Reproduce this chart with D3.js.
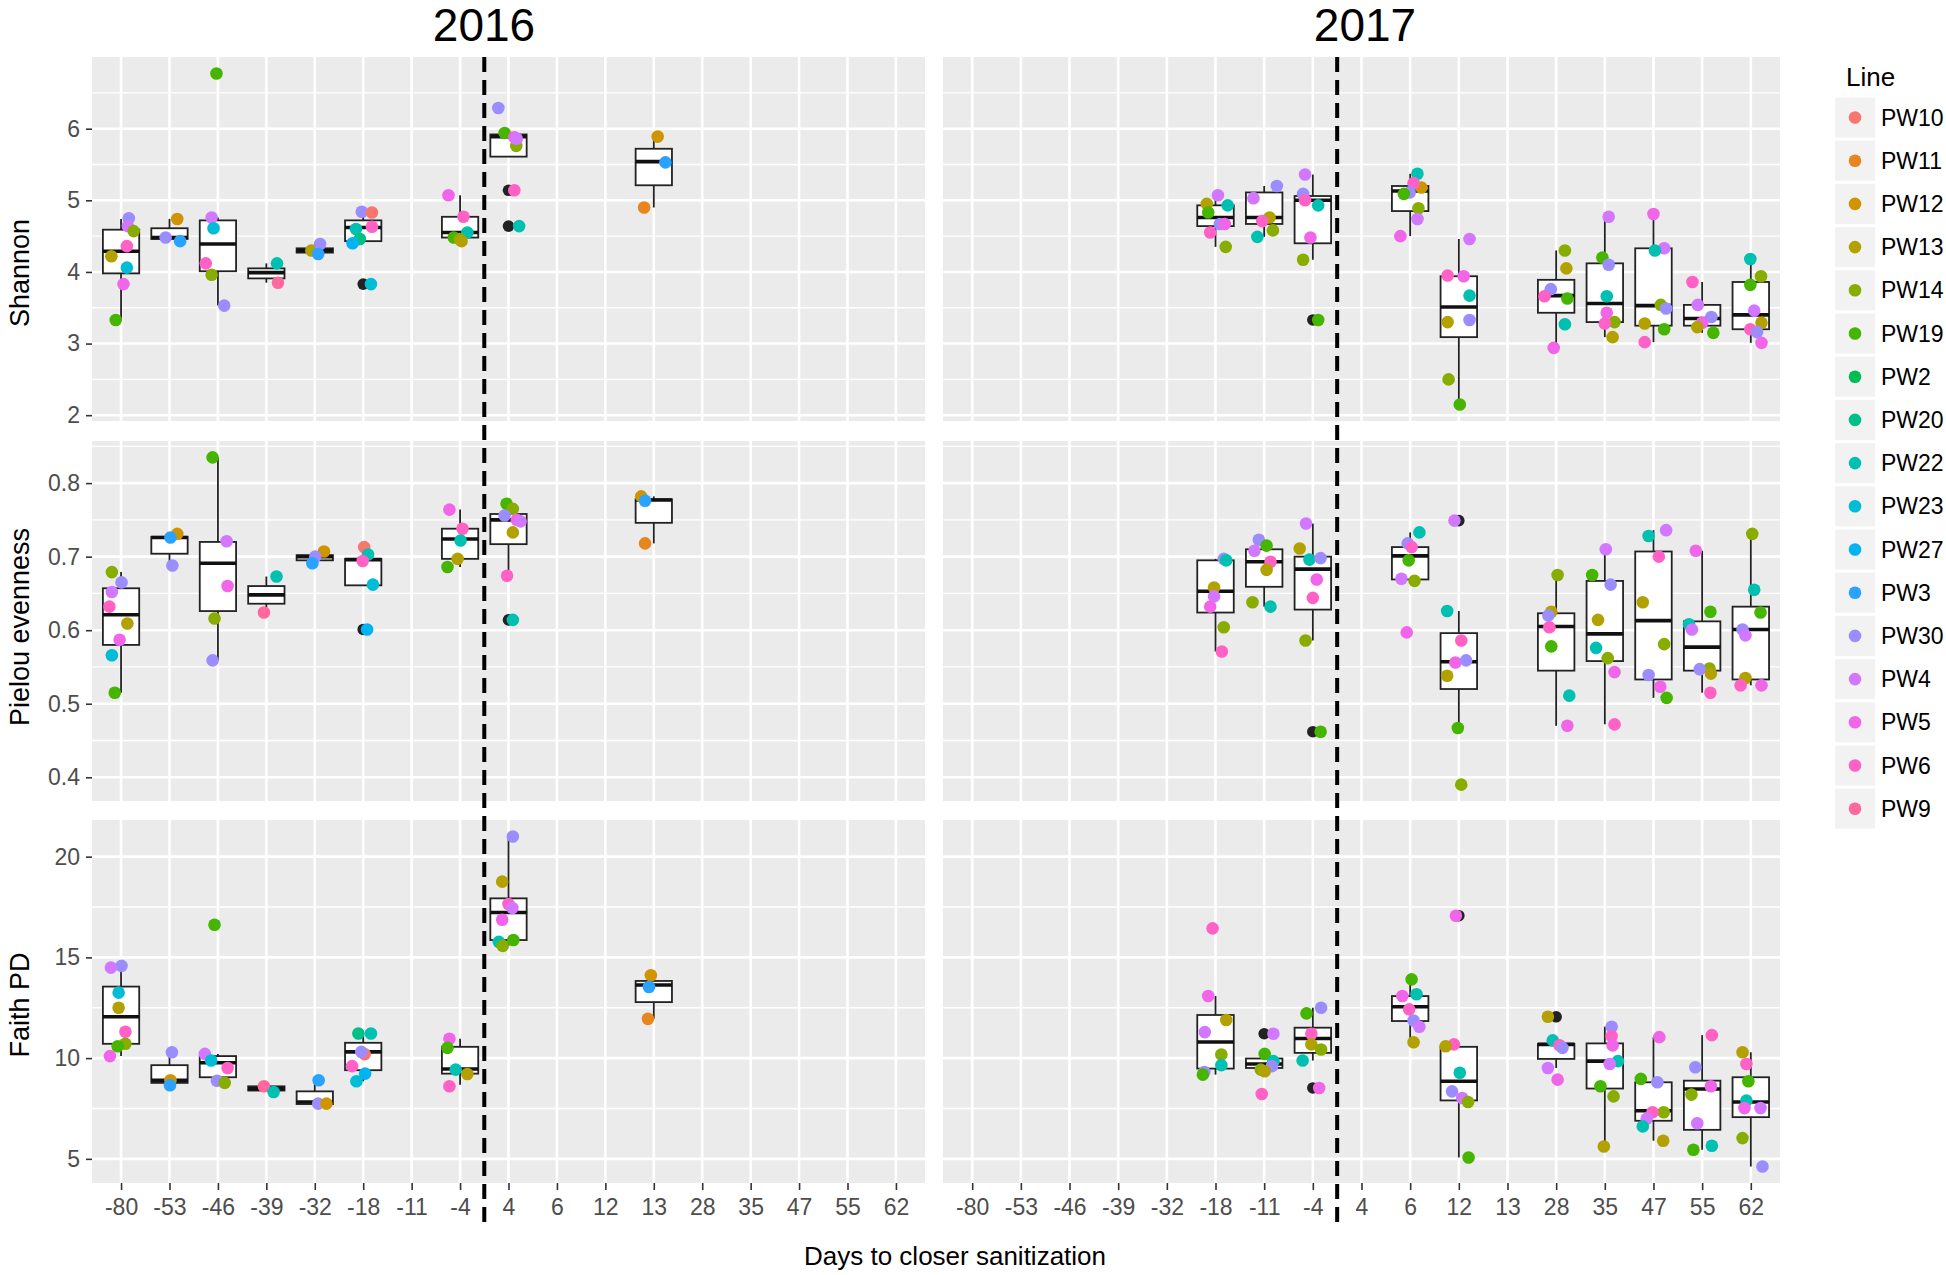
<!DOCTYPE html>
<html><head><meta charset="utf-8">
<script src="https://cdn.jsdelivr.net/npm/d3@7"></script>
<style>
body{margin:0;background:#fff}
svg{display:block}
text{font-family:"Liberation Sans",Arial,Helvetica,sans-serif}
</style>
</head><body>
<svg id="chart" width="1946" height="1275"></svg>
<script>
// ---------------- DATA ----------------
const days = ["-80","-53","-46","-39","-32","-18","-11","-4","4","6","12","13","28","35","47","55","62"];
const lineNames = ["PW10","PW11","PW12","PW13","PW14","PW19","PW2","PW20","PW22","PW23","PW27","PW3","PW30","PW4","PW5","PW6","PW9"];
const years = ["2016","2017"];
const metrics = ["Shannon","Pielou evenness","Faith PD"];
const shannonTicks = [2,3,4,5,6];
const pielouTicks = [0.4,0.5,0.6,0.7,0.8];
const faithTicks = [5,10,15,20];
const xTitle = "Days to closer sanitization";
const legendTitle = "Line";

// points: [day, line, value, jitter (fraction of category step)]
const shannon2016 = [
["-80","PW30",4.75,0.16],["-80","PW4",4.64,0.14],["-80","PW14",4.57,0.26],["-80","PW6",4.36,0.12],["-80","PW13",4.22,-0.20],["-80","PW23",4.06,0.12],["-80","PW5",3.83,0.05],["-80","PW19",3.33,-0.11],
["-53","PW12",4.74,0.16],["-53","PW30",4.48,-0.08],["-53","PW3",4.43,0.22],
["-46","PW19",6.77,-0.03],["-46","PW4",4.76,-0.13],["-46","PW23",4.61,-0.09],["-46","PW6",4.12,-0.25],["-46","PW14",3.96,-0.13],["-46","PW30",3.53,0.13],
["-39","PW22",4.12,0.22],["-39","PW9",3.85,0.24],
["-32","PW13",4.30,-0.07],["-32","PW30",4.39,0.11],["-32","PW3",4.25,0.07],
["-18","PW30",4.84,-0.03],["-18","PW10",4.83,0.18],["-18","PW6",4.63,0.18],["-18","PW22",4.60,-0.15],["-18","PW20",4.46,-0.07],["-18","PW27",4.40,-0.22],["-18","PW23",3.83,0.16],
["-4","PW5",5.07,-0.24],["-4","PW6",4.77,0.07],["-4","PW22",4.55,0.15],["-4","PW19",4.48,-0.13],["-4","PW14",4.46,-0.01],["-4","PW13",4.43,0.03],
["4","PW30",6.29,-0.21],["4","PW19",5.94,-0.08],["4","PW14",5.76,0.16],["4","PW5",5.88,0.12],["4","PW4",5.86,0.17],["4","PW6",5.14,0.12],["4","PW22",4.64,0.22],
["13","PW12",5.89,0.08],["13","PW3",5.53,0.24],["13","PW11",4.90,-0.20]
];
const shannon2017 = [
["-18","PW4",5.07,0.05],["-18","PW13",4.95,-0.18],["-18","PW22",4.93,0.25],["-18","PW19",4.83,-0.15],["-18","PW30",4.67,0.09],["-18","PW5",4.67,0.19],["-18","PW6",4.55,-0.11],["-18","PW14",4.35,0.21],
["-11","PW30",5.20,0.26],["-11","PW4",5.03,-0.22],["-11","PW13",4.76,0.11],["-11","PW6",4.71,-0.04],["-11","PW14",4.58,0.18],["-11","PW22",4.49,-0.14],
["-4","PW4",5.36,-0.16],["-4","PW30",5.09,-0.20],["-4","PW6",5.00,-0.16],["-4","PW22",4.93,0.11],["-4","PW5",4.48,-0.05],["-4","PW14",4.17,-0.20],["-4","PW19",3.33,0.11],
["6","PW22",5.37,0.15],["6","PW12",5.18,0.23],["6","PW6",5.24,0.07],["6","PW30",5.11,-0.01],["6","PW19",5.09,-0.13],["6","PW14",4.89,0.17],["6","PW4",4.74,0.15],["6","PW5",4.50,-0.20],
["12","PW4",4.46,0.22],["12","PW6",3.95,-0.23],["12","PW5",3.94,0.10],["12","PW22",3.67,0.22],["12","PW13",3.30,-0.23],["12","PW30",3.33,0.22],["12","PW14",2.50,-0.21],["12","PW19",2.15,0.02],
["28","PW14",4.30,0.18],["28","PW13",4.05,0.21],["28","PW30",3.76,-0.11],["28","PW6",3.66,-0.24],["28","PW19",3.63,0.23],["28","PW22",3.27,0.18],["28","PW5",2.94,-0.05],
["35","PW4",4.77,0.08],["35","PW19",4.20,-0.05],["35","PW30",4.10,0.08],["35","PW22",3.66,0.04],["35","PW5",3.43,0.04],["35","PW14",3.30,0.20],["35","PW6",3.28,0.00],["35","PW13",3.09,0.16],
["47","PW5",4.81,0.00],["47","PW4",4.33,0.22],["47","PW22",4.30,0.03],["47","PW14",3.54,0.15],["47","PW30",3.49,0.26],["47","PW13",3.28,-0.18],["47","PW19",3.20,0.22],["47","PW6",3.02,-0.18],
["55","PW6",3.86,-0.20],["55","PW4",3.54,-0.09],["55","PW30",3.37,0.19],["55","PW5",3.29,0.00],["55","PW13",3.23,-0.10],["55","PW19",3.15,0.23],
["62","PW22",4.18,-0.01],["62","PW14",3.94,0.21],["62","PW19",3.82,-0.01],["62","PW4",3.46,0.07],["62","PW13",3.29,0.22],["62","PW6",3.20,-0.01],["62","PW30",3.16,0.13],["62","PW5",3.01,0.22]
];
const pielou2016 = [
["-80","PW14",0.679,-0.19],["-80","PW30",0.665,0.01],["-80","PW4",0.652,-0.19],["-80","PW6",0.632,-0.24],["-80","PW13",0.609,0.13],["-80","PW5",0.587,-0.03],["-80","PW23",0.566,-0.19],["-80","PW19",0.515,-0.13],
["-53","PW12",0.731,0.16],["-53","PW3",0.726,0.02],["-53","PW30",0.688,0.06],
["-46","PW19",0.835,-0.11],["-46","PW4",0.721,0.18],["-46","PW5",0.660,0.20],["-46","PW14",0.616,-0.07],["-46","PW30",0.559,-0.11],
["-39","PW22",0.673,0.21],["-39","PW9",0.624,-0.05],
["-32","PW12",0.707,0.19],["-32","PW30",0.700,0.01],["-32","PW3",0.691,-0.05],
["-18","PW10",0.713,0.02],["-18","PW22",0.703,0.10],["-18","PW6",0.694,-0.01],["-18","PW23",0.662,0.20],["-18","PW27",0.601,0.08],
["-4","PW5",0.764,-0.22],["-4","PW6",0.738,0.05],["-4","PW22",0.722,0.01],["-4","PW13",0.697,-0.05],["-4","PW19",0.686,-0.26],
["4","PW19",0.772,-0.04],["4","PW14",0.765,0.09],["4","PW30",0.756,-0.08],["4","PW5",0.750,0.17],["4","PW4",0.748,0.25],["4","PW13",0.733,0.09],["4","PW6",0.674,-0.03],["4","PW22",0.614,0.09],
["13","PW12",0.782,-0.26],["13","PW3",0.776,-0.18],["13","PW11",0.718,-0.18]
];
const pielou2017 = [
["-18","PW30",0.697,0.17],["-18","PW22",0.695,0.22],["-18","PW13",0.658,-0.03],["-18","PW4",0.646,-0.03],["-18","PW5",0.632,-0.11],["-18","PW14",0.604,0.17],["-18","PW6",0.571,0.13],
["-11","PW30",0.723,-0.11],["-11","PW19",0.715,0.05],["-11","PW4",0.708,-0.20],["-11","PW6",0.693,0.13],["-11","PW13",0.682,0.05],["-11","PW14",0.638,-0.24],["-11","PW22",0.632,0.13],
["-4","PW4",0.745,-0.14],["-4","PW13",0.711,-0.27],["-4","PW22",0.696,-0.07],["-4","PW30",0.698,0.16],["-4","PW5",0.669,0.08],["-4","PW6",0.644,0.00],["-4","PW14",0.586,-0.15],["-4","PW19",0.462,0.16],
["6","PW22",0.733,0.19],["6","PW30",0.718,-0.05],["6","PW6",0.713,0.03],["6","PW19",0.695,-0.03],["6","PW4",0.670,-0.18],["6","PW14",0.667,0.09],["6","PW5",0.597,-0.07],
["12","PW4",0.749,-0.09],["12","PW22",0.626,-0.24],["12","PW6",0.586,0.05],["12","PW5",0.556,-0.07],["12","PW30",0.559,0.15],["12","PW13",0.538,-0.24],["12","PW19",0.467,-0.02],["12","PW14",0.390,0.05],
["28","PW14",0.675,0.03],["28","PW13",0.625,-0.10],["28","PW30",0.620,-0.16],["28","PW6",0.604,-0.14],["28","PW19",0.578,-0.10],["28","PW22",0.511,0.27],["28","PW5",0.470,0.23],
["35","PW4",0.710,0.02],["35","PW19",0.675,-0.26],["35","PW30",0.662,0.12],["35","PW13",0.614,-0.14],["35","PW22",0.576,-0.18],["35","PW14",0.562,0.06],["35","PW5",0.543,0.20],["35","PW6",0.472,0.20],
["47","PW4",0.736,0.26],["47","PW22",0.728,-0.10],["47","PW6",0.700,0.11],["47","PW13",0.638,-0.22],["47","PW14",0.581,0.22],["47","PW30",0.539,-0.10],["47","PW5",0.523,0.14],["47","PW19",0.508,0.27],
["55","PW5",0.708,-0.13],["55","PW19",0.625,0.17],["55","PW22",0.608,-0.27],["55","PW4",0.601,-0.21],["55","PW14",0.548,0.15],["55","PW30",0.547,-0.05],["55","PW13",0.541,0.18],["55","PW6",0.515,0.17],
["62","PW14",0.731,0.03],["62","PW22",0.655,0.07],["62","PW19",0.624,0.20],["62","PW30",0.601,-0.17],["62","PW4",0.593,-0.11],["62","PW13",0.535,-0.11],["62","PW6",0.525,-0.21],["62","PW5",0.525,0.22]
];
const faith2016 = [
["-80","PW30",14.58,0.01],["-80","PW4",14.49,-0.21],["-80","PW23",13.25,-0.05],["-80","PW13",12.50,-0.05],["-80","PW6",11.31,0.09],["-80","PW14",10.71,0.09],["-80","PW19",10.59,-0.07],["-80","PW5",10.10,-0.23],
["-53","PW30",10.29,0.05],["-53","PW12",8.90,0.02],["-53","PW3",8.65,0.01],
["-46","PW19",16.62,-0.07],["-46","PW4",10.21,-0.27],["-46","PW23",9.88,-0.14],["-46","PW6",9.51,0.20],["-46","PW30",8.88,-0.02],["-46","PW14",8.77,0.14],
["-39","PW9",8.60,-0.05],["-39","PW22",8.32,0.15],
["-32","PW3",8.90,0.08],["-32","PW30",7.74,0.07],["-32","PW12",7.74,0.24],
["-18","PW20",11.22,-0.10],["-18","PW22",11.22,0.16],["-18","PW10",10.20,0.03],["-18","PW30",10.31,-0.04],["-18","PW6",9.60,-0.23],["-18","PW27",9.23,0.04],["-18","PW23",8.85,-0.14],
["-4","PW5",10.96,-0.22],["-4","PW19",10.51,-0.26],["-4","PW22",9.43,-0.09],["-4","PW13",9.21,0.15],["-4","PW6",8.60,-0.22],
["4","PW30",21.00,0.09],["4","PW13",18.76,-0.13],["4","PW6",17.65,0.00],["4","PW4",17.45,0.08],["4","PW5",16.87,-0.13],["4","PW22",15.77,-0.20],["4","PW19",15.86,0.10],["4","PW14",15.57,-0.12],
["13","PW12",14.11,-0.06],["13","PW3",13.53,-0.10],["13","PW11",11.95,-0.12]
];
const faith2017 = [
["-18","PW6",16.44,-0.06],["-18","PW5",13.08,-0.15],["-18","PW13",11.89,0.22],["-18","PW4",11.29,-0.22],["-18","PW14",10.18,0.12],["-18","PW22",9.65,0.12],["-18","PW30",9.31,-0.23],["-18","PW19",9.18,-0.26],
["-11","PW4",11.21,0.19],["-11","PW19",10.21,0.01],["-11","PW22",9.85,0.19],["-11","PW30",9.60,0.16],["-11","PW14",9.43,-0.07],["-11","PW13",9.35,0.01],["-11","PW6",8.22,-0.05],
["-4","PW30",12.50,0.17],["-4","PW19",12.22,-0.13],["-4","PW6",11.21,-0.03],["-4","PW13",10.68,-0.03],["-4","PW14",10.43,0.17],["-4","PW22",9.88,-0.21],["-4","PW5",8.52,0.13],
["6","PW19",13.91,0.03],["6","PW22",13.17,0.13],["6","PW5",13.08,-0.16],["6","PW6",12.42,-0.02],["6","PW30",11.87,0.07],["6","PW4",11.56,0.19],["6","PW13",10.79,0.07],
["12","PW5",17.07,-0.06],["12","PW6",10.68,-0.10],["12","PW13",10.59,-0.27],["12","PW22",9.27,0.02],["12","PW30",8.35,-0.14],["12","PW4",8.02,0.07],["12","PW14",7.82,0.19],["12","PW19",5.07,0.20],
["28","PW13",12.05,-0.17],["28","PW22",10.88,-0.07],["28","PW6",10.64,0.07],["28","PW30",10.51,0.13],["28","PW4",9.51,-0.17],["28","PW5",8.93,0.03],
["35","PW30",11.56,0.14],["35","PW6",11.09,0.14],["35","PW5",10.63,0.16],["35","PW22",9.85,0.27],["35","PW4",9.71,0.10],["35","PW19",8.60,-0.09],["35","PW14",8.10,0.18],["35","PW13",5.61,-0.02],
["47","PW5",11.04,0.12],["47","PW19",8.97,-0.26],["47","PW30",8.80,0.08],["47","PW14",7.31,0.21],["47","PW6",7.31,-0.02],["47","PW4",6.99,-0.14],["47","PW22",6.61,-0.22],["47","PW13",5.90,0.20],
["55","PW6",11.14,0.20],["55","PW30",9.55,-0.14],["55","PW5",8.60,0.18],["55","PW14",8.19,-0.22],["55","PW4",6.77,-0.10],["55","PW22",5.65,0.20],["55","PW19",5.45,-0.18],
["62","PW13",10.29,-0.17],["62","PW6",9.71,-0.09],["62","PW19",8.85,-0.05],["62","PW22",7.89,-0.09],["62","PW5",7.52,-0.13],["62","PW4",7.52,0.20],["62","PW14",6.03,-0.17],["62","PW30",4.62,0.24]
];

// boxplot stats: [day, lower whisker, q1, median, q3, upper whisker]
const shannon2016Box = [
["-80",3.33,3.98,4.29,4.59,4.74],["-53",4.46,4.46,4.48,4.61,4.74],["-46",3.53,4.01,4.39,4.72,4.76],
["-39",3.85,3.91,3.99,4.05,4.12],["-32",4.25,4.27,4.30,4.33,4.39],["-18",4.40,4.43,4.62,4.72,4.84],
["-4",4.43,4.48,4.55,4.77,5.07],["4",5.61,5.61,5.89,5.92,5.94],["13",4.90,5.21,5.54,5.72,5.89]
];
const shannon2017Box = [
["-18",4.35,4.64,4.76,4.93,5.07],["-11",4.49,4.67,4.76,5.11,5.20],["-4",4.17,4.40,5.00,5.06,5.36],
["6",4.50,4.85,5.13,5.20,5.37],["12",2.15,3.09,3.51,3.94,4.46],["28",2.94,3.43,3.67,3.89,4.30],
["35",3.09,3.30,3.56,4.12,4.77],["47",3.02,3.25,3.53,4.33,4.81],["55",3.15,3.25,3.35,3.54,3.86],
["62",3.01,3.20,3.40,3.86,4.18]
];
const pielou2016Box = [
["-80",0.515,0.580,0.621,0.657,0.679],["-53",0.688,0.704,0.726,0.727,0.731],["-46",0.559,0.626,0.691,0.720,0.835],
["-39",0.624,0.636,0.648,0.660,0.673],["-32",0.691,0.695,0.700,0.702,0.707],["-18",0.661,0.661,0.696,0.697,0.713],
["-4",0.686,0.697,0.724,0.738,0.764],["4",0.674,0.717,0.750,0.758,0.772],["13",0.718,0.746,0.777,0.778,0.782]
];
const pielou2017Box = [
["-18",0.571,0.624,0.653,0.695,0.697],["-11",0.632,0.659,0.693,0.710,0.723],["-4",0.586,0.628,0.683,0.700,0.745],
["6",0.667,0.669,0.701,0.713,0.733],["12",0.467,0.520,0.557,0.596,0.626],["28",0.470,0.545,0.605,0.623,0.675],
["35",0.472,0.558,0.595,0.667,0.710],["47",0.508,0.533,0.613,0.707,0.736],["55",0.515,0.545,0.577,0.612,0.708],
["62",0.525,0.533,0.601,0.632,0.731]
];
const faith2016Box = [
["-80",10.10,10.71,12.05,13.55,14.58],["-53",8.65,8.77,8.90,9.65,10.29],["-46",8.77,9.05,9.77,10.10,10.21],
["-39",8.32,8.39,8.48,8.60,8.60],["-32",7.72,7.72,7.82,8.35,8.90],["-18",8.85,9.40,10.31,10.76,11.22],
["-4",8.68,9.23,9.46,10.56,10.96],["4",15.57,15.86,17.23,17.93,21.00],["13",11.95,12.78,13.63,13.83,14.11]
];
const faith2017Box = [
["-18",9.18,9.48,10.80,12.14,13.08],["-11",9.35,9.51,9.71,9.98,10.21],["-4",9.88,10.26,10.97,11.51,12.50],
["6",10.79,11.84,12.55,13.08,13.91],["12",5.07,7.90,8.85,10.56,10.68],["28",9.51,9.96,10.68,10.71,10.88],
["35",5.61,8.49,9.85,10.73,11.56],["47",5.90,6.89,7.39,8.80,11.04],["55",5.45,6.44,8.47,8.88,11.14],
["62",4.62,7.07,7.82,9.05,10.29]
];

// boxplot outliers that show as black dots: [day, value]
const shannon2016Out = [["-18",3.83],["4",5.14],["4",4.64]];
const shannon2017Out = [["-4",3.33]];
const pielou2016Out = [["-18",0.601],["4",0.614]];
const pielou2017Out = [["-4",0.462],["12",0.749]];
const faith2016Out = [];
const faith2017Out = [["-11",11.21],["-4",8.52],["12",17.07],["28",12.05]];

// ---------------- COLOURS (ggplot2 hue palette, hcl in polar LUV) ----------------
function hclLuv(h, c, l) {
  const hr = h * Math.PI / 180;
  const U = c * Math.cos(hr), V = c * Math.sin(hr);
  const Xn = 95.047, Yn = 100, Zn = 108.883;
  const den = Xn + 15 * Yn + 3 * Zn;
  const un = 4 * Xn / den, vn = 9 * Yn / den;
  const Y = Yn * Math.pow((l + 16) / 116, 3);
  const u = U / (13 * l) + un, v = V / (13 * l) + vn;
  const X = 9 * Y * u / (4 * v);
  const Z = 3 * Y / v - X / 3 - 5 * Y;
  const x = X / 100, y = Y / 100, z = Z / 100;
  const r = 3.240479 * x - 1.537150 * y - 0.498535 * z;
  const g = -0.969256 * x + 1.875992 * y + 0.041556 * z;
  const b = 0.055648 * x - 0.204043 * y + 1.057311 * z;
  const gam = t => t <= 0.0031308 ? 12.92 * t : 1.055 * Math.pow(t, 1 / 2.4) - 0.055;
  const cl = t => Math.max(0, Math.min(1, t));
  return d3.rgb(cl(gam(r)) * 255, cl(gam(g)) * 255, cl(gam(b)) * 255).formatHex();
}
const color = d3.scaleOrdinal()
  .domain(lineNames)
  .range(lineNames.map((d, i) => hclLuv(15 + i * 360 / lineNames.length, 100, 65)));

// ---------------- LAYOUT ----------------
const svg = d3.select("#chart");
const cols = [{x0: 92, x1: 925}, {x0: 943, x1: 1780}];
const rows = [{y0: 57, y1: 421}, {y0: 441, y1: 801}, {y0: 820, y1: 1183}];
const rowTicks = [shannonTicks, pielouTicks, faithTicks];
const panelData = [
  [[shannon2016, shannon2016Box, shannon2016Out], [shannon2017, shannon2017Box, shannon2017Out]],
  [[pielou2016, pielou2016Box, pielou2016Out], [pielou2017, pielou2017Box, pielou2017Out]],
  [[faith2016, faith2016Box, faith2016Out], [faith2017, faith2017Box, faith2017Out]]
];
const PT_R = 6.3;

// y domains per row (shared across the two years), ggplot-style 5% expansion
const yDomains = panelData.map(row => {
  const vals = [];
  row.forEach(([pts, box, out]) => {
    pts.forEach(p => vals.push(p[2]));
    box.forEach(b => vals.push(b[1], b[5]));
    out.forEach(o => vals.push(o[1]));
  });
  const [lo, hi] = d3.extent(vals);
  const pad = (hi - lo) * 0.05;
  return [lo - pad, hi + pad];
});

const xScales = cols.map(c => d3.scalePoint().domain(days).range([c.x0, c.x1]).padding(0.6));

rows.forEach((rw, ri) => {
  const y = d3.scaleLinear().domain(yDomains[ri]).range([rw.y1, rw.y0]);
  const majors = rowTicks[ri];
  const stepM = majors[1] - majors[0];
  const minors = [];
  for (let i = -1; i < majors.length; i++) {
    const v = (i < 0 ? majors[0] - stepM : majors[i]) + stepM / 2;
    if (v > yDomains[ri][0] && v < yDomains[ri][1]) minors.push(v);
  }
  cols.forEach((cl, ci) => {
    const x = xScales[ci];
    const step = x.step();
    const [pts, box, out] = panelData[ri][ci];
    const g = svg.append("g");
    g.append("rect").attr("x", cl.x0).attr("y", rw.y0).attr("width", cl.x1 - cl.x0).attr("height", rw.y1 - rw.y0).attr("fill", "#EBEBEB");
    g.selectAll(".minor").data(minors).join("line")
      .attr("x1", cl.x0).attr("x2", cl.x1).attr("y1", d => y(d)).attr("y2", d => y(d))
      .attr("stroke", "#fff").attr("stroke-width", 1.3);
    g.selectAll(".major").data(majors).join("line")
      .attr("x1", cl.x0).attr("x2", cl.x1).attr("y1", d => y(d)).attr("y2", d => y(d))
      .attr("stroke", "#fff").attr("stroke-width", 2.6);
    g.selectAll(".vmajor").data(days).join("line")
      .attr("x1", d => x(d)).attr("x2", d => x(d)).attr("y1", rw.y0).attr("y2", rw.y1)
      .attr("stroke", "#fff").attr("stroke-width", 2.6);

    const bw = step * 0.75;
    const bg = g.append("g");
    box.forEach(b => {
      const cx = x(b[0]);
      bg.append("line").attr("x1", cx).attr("x2", cx).attr("y1", y(b[1])).attr("y2", y(b[2])).attr("stroke", "#222").attr("stroke-width", 1.8);
      bg.append("line").attr("x1", cx).attr("x2", cx).attr("y1", y(b[4])).attr("y2", y(b[5])).attr("stroke", "#222").attr("stroke-width", 1.8);
      bg.append("rect").attr("x", cx - bw / 2).attr("y", y(b[4])).attr("width", bw).attr("height", Math.max(1, y(b[2]) - y(b[4])))
        .attr("fill", "#fff").attr("stroke", "#222").attr("stroke-width", 1.8);
      bg.append("line").attr("x1", cx - bw / 2).attr("x2", cx + bw / 2).attr("y1", y(b[3])).attr("y2", y(b[3])).attr("stroke", "#111").attr("stroke-width", 3.6);
    });
    g.selectAll(".out").data(out).join("circle")
      .attr("cx", d => x(d[0])).attr("cy", d => y(d[1])).attr("r", PT_R - 0.5).attr("fill", "#222");
    g.selectAll(".pt").data(pts).join("circle")
      .attr("cx", d => x(d[0]) + d[3] * step).attr("cy", d => y(d[2])).attr("r", PT_R)
      .attr("fill", d => color(d[1]));

    if (ci === 0) {
      const ax = svg.append("g").attr("transform", `translate(${cl.x0},0)`)
        .call(d3.axisLeft(y).tickValues(majors).tickSize(6).tickPadding(6).tickFormat(d3.format("")));
      ax.select(".domain").remove();
      ax.selectAll(".tick line").attr("stroke", "#333").attr("stroke-width", 1.6);
      ax.selectAll(".tick text").attr("fill", "#4D4D4D").style("font-size", "23px").style("font-family", '"Liberation Sans",Arial,sans-serif');
    }
    if (ri === rows.length - 1) {
      const ax = svg.append("g").attr("transform", `translate(0,${rw.y1})`)
        .call(d3.axisBottom(x).tickSize(7).tickPadding(9));
      ax.select(".domain").remove();
      ax.selectAll(".tick line").attr("stroke", "#333").attr("stroke-width", 1.6);
      ax.selectAll(".tick text").attr("fill", "#4D4D4D").style("font-size", "23px").style("font-family", '"Liberation Sans",Arial,sans-serif');
    }
  });
});

// dashed separator between day -4 and day 4
xScales.forEach(x => {
  const xm = (x("-4") + x("4")) / 2;
  svg.append("line").attr("x1", xm).attr("x2", xm).attr("y1", rows[0].y0).attr("y2", 1222)
    .attr("stroke", "#000").attr("stroke-width", 4).attr("stroke-dasharray", "15,8");
});

// year titles
const yearX = [484, 1365];
years.forEach((yr, i) => {
  svg.append("text").attr("x", yearX[i]).attr("y", 41).attr("text-anchor", "middle")
    .style("font-size", "46px").attr("fill", "#000").text(yr);
});

// y axis titles
const yTitleY = [273, 627, 1005];
metrics.forEach((m, i) => {
  svg.append("text").attr("transform", `translate(20,${yTitleY[i]}) rotate(-90)`)
    .attr("text-anchor", "middle").attr("dominant-baseline", "central")
    .style("font-size", "27px").attr("fill", "#000").text(m);
});

// x axis title
svg.append("text").attr("x", 955).attr("y", 1256).attr("text-anchor", "middle").attr("dominant-baseline", "central")
  .style("font-size", "26px").attr("fill", "#000").text(xTitle);

// legend
const lg = svg.append("g");
lg.append("text").attr("x", 1846).attr("y", 77).attr("dominant-baseline", "central")
  .style("font-size", "26px").attr("fill", "#000").text(legendTitle);
lineNames.forEach((n, i) => {
  const cy = 117.5 + i * 43.2;
  lg.append("rect").attr("x", 1835).attr("y", cy - 20).attr("width", 40).attr("height", 40).attr("fill", "#F2F2F2");
  lg.append("circle").attr("cx", 1855).attr("cy", cy).attr("r", PT_R).attr("fill", color(n));
  lg.append("text").attr("x", 1881).attr("y", cy).attr("dominant-baseline", "central")
    .style("font-size", "23px").attr("fill", "#000").text(n);
});
</script>
</body></html>
